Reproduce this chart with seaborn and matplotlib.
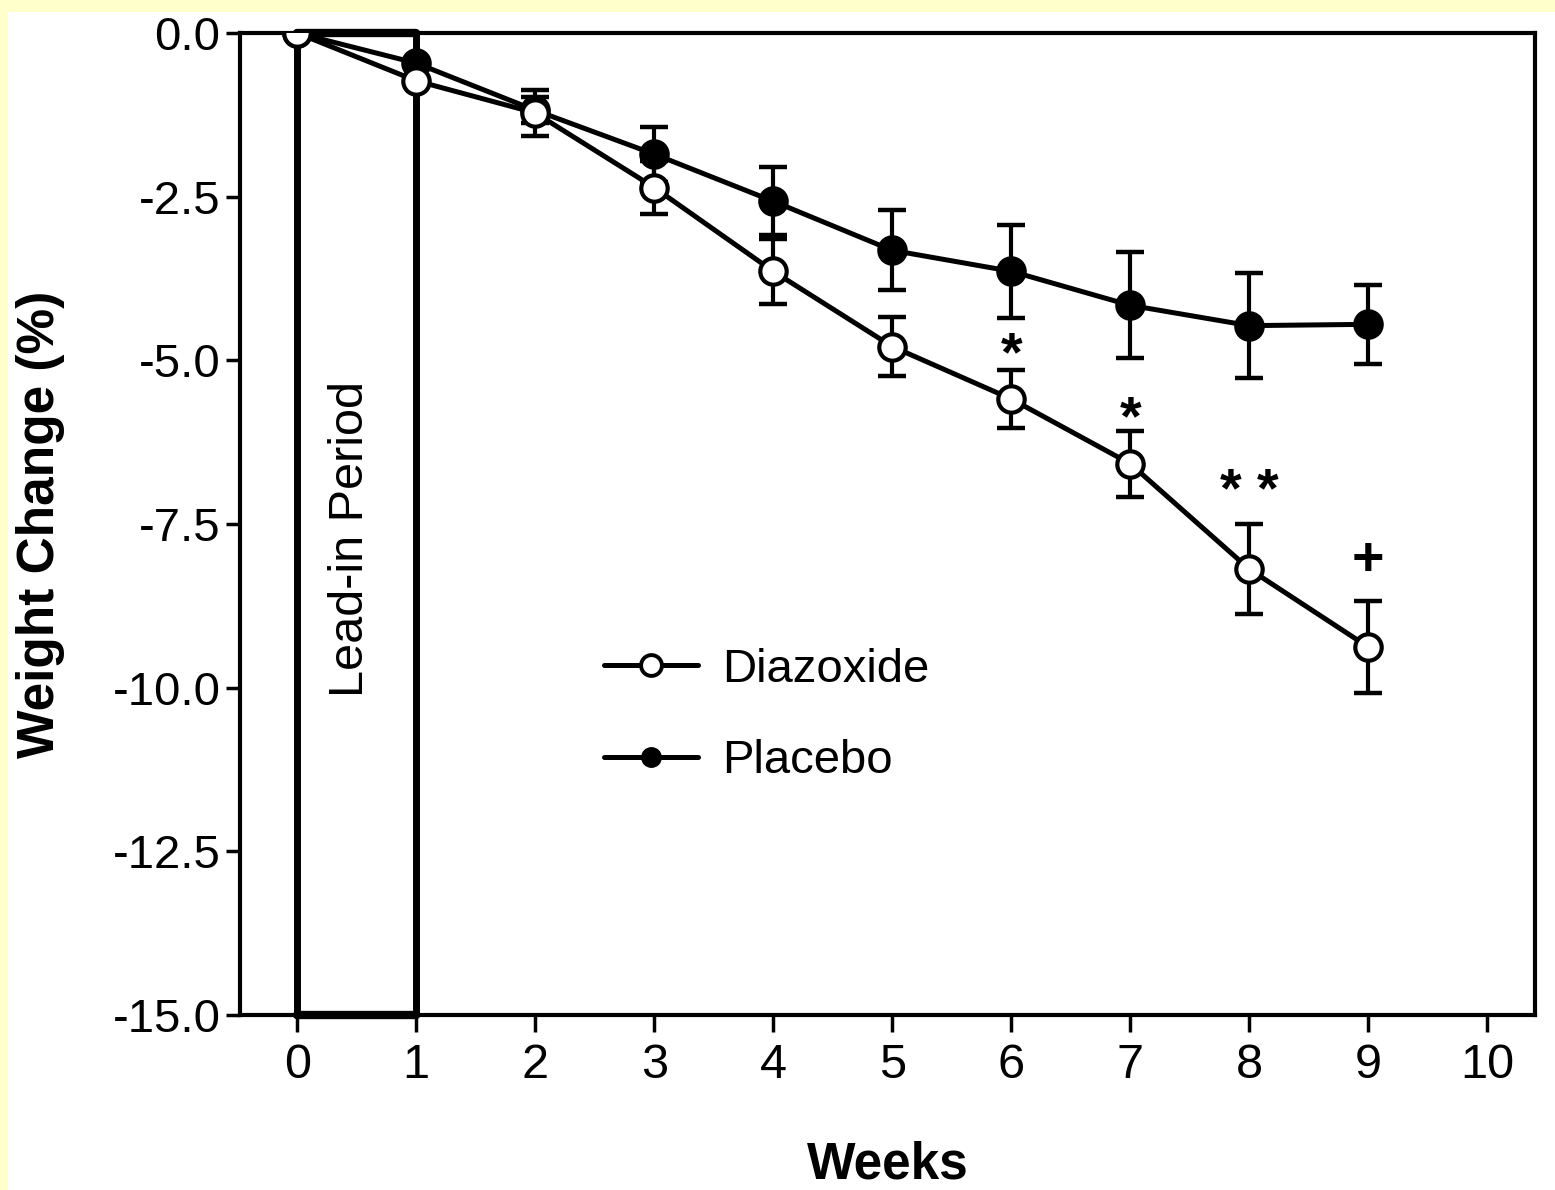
import seaborn as sns
import pandas as pd
import matplotlib.pyplot as plt
import matplotlib.patches as mpatches
from matplotlib.lines import Line2D

# Data (weight change in %)
weeks = [0, 1, 2, 3, 4, 5, 6, 7, 8, 9]
diazoxide = [0.0, -0.73, -1.22, -2.36, -3.64, -4.79, -5.59, -6.58, -8.19, -9.38]
diazoxide_err = [0.0, 0.0, 0.35, 0.41, 0.50, 0.45, 0.44, 0.50, 0.69, 0.70]
placebo = [0.0, -0.46, -1.18, -1.85, -2.57, -3.32, -3.64, -4.16, -4.47, -4.45]
placebo_err = [0.0, 0.0, 0.20, 0.42, 0.52, 0.61, 0.71, 0.81, 0.80, 0.60]

# significance marks above the diazoxide points
sig_weeks = [6, 7, 8, 9]
sig_labels = ['*', '*', '* *', '+']
sig_y = [-4.77, -5.74, -6.86, -8.07]

df = pd.DataFrame({
    'Weeks': weeks * 2,
    'Change': diazoxide + placebo,
    'Err': diazoxide_err + placebo_err,
    'Group': ['Diazoxide'] * len(weeks) + ['Placebo'] * len(weeks),
})

sns.set_style("ticks")
plt.rcParams['font.family'] = ['Liberation Sans', 'DejaVu Sans']
plt.rcParams.update({'text.color': 'black', 'axes.labelcolor': 'black',
                     'xtick.color': 'black', 'ytick.color': 'black'})

fig = plt.figure(figsize=(15.55, 11.9), dpi=100)
fig.patch.set_facecolor('#FFFFCC')
# white paper area inside the yellow frame (kept behind the axes)
paper = mpatches.Rectangle((8 / 1555, 0), 1, 1 - 12 / 1190,
                           transform=fig.transFigure,
                           facecolor='white', edgecolor='none', zorder=-10)
fig.add_artist(paper)
ax = fig.add_axes([240 / 1555, 1 - 1015 / 1190, 1295 / 1555, 982 / 1190])
ax.set_zorder(1)
ax.set_facecolor('white')

lw = 3.6
# placebo first so the open circles sit on top where they overlap
for name, face in [('Placebo', 'black'), ('Diazoxide', 'white')]:
    sub = df[df['Group'] == name]
    ax.errorbar(sub['Weeks'], sub['Change'], yerr=sub['Err'], fmt='none',
                ecolor='black', elinewidth=3, capsize=10, capthick=3.2, zorder=3)
    sns.lineplot(data=sub, x='Weeks', y='Change', ax=ax, color='black',
                 linewidth=lw, marker='o', markersize=19,
                 markerfacecolor=face, markeredgecolor='black', markeredgewidth=3,
                 zorder=4, legend=False)

# lead-in period box
ax.plot([0, 0], [0, -15], color='black', linewidth=5, zorder=2, clip_on=False)
ax.plot([1, 1], [0, -15], color='black', linewidth=5, zorder=2, clip_on=False)
ax.plot([0, 1], [-15, -15], color='black', linewidth=6, zorder=2, clip_on=False)
ax.plot([0, 1], [0, 0], color='black', linewidth=6, zorder=2, clip_on=False)
ax.text(0.45, -7.73, 'Lead-in Period', rotation=90, ha='center', va='center',
        fontsize=35)

for w, lab, yy in zip(sig_weeks, sig_labels, sig_y):
    if lab == '+':
        ax.text(w, yy, lab, ha='center', va='center', fontsize=40, fontweight='bold')
    else:
        # the asterisk glyph sits high in its box, so nudge it down
        ax.text(w, yy - 0.17, lab, ha='center', va='center', fontsize=40,
                fontweight='bold')

ax.set_xlim(-0.48, 10.4)
ax.set_ylim(-15, 0)
ax.set_xticks(range(0, 11))
ax.set_yticks([0, -2.5, -5, -7.5, -10, -12.5, -15])
ax.set_yticklabels(['0.0', '-2.5', '-5.0', '-7.5', '-10.0', '-12.5', '-15.0'])
ax.tick_params(axis='x', labelsize=35, length=12, width=2.5, direction='out', pad=8)
ax.tick_params(axis='y', labelsize=34, length=10, width=2.5, direction='out', pad=4)

for spine in ax.spines.values():
    spine.set_visible(True)
    spine.set_color('black')
    spine.set_linewidth(3)

ax.set_xlabel('Weeks', fontsize=37, fontweight='bold', labelpad=38)
ax.set_ylabel('Weight Change (%)', fontsize=37, fontweight='bold', labelpad=34)

handles = [
    Line2D([], [], color='black', linewidth=lw, marker='o', markersize=15,
           markerfacecolor='white', markeredgecolor='black', markeredgewidth=2.8),
    Line2D([], [], color='black', linewidth=lw, marker='o', markersize=14,
           markerfacecolor='black', markeredgecolor='black'),
]
ax.legend(handles, ['Diazoxide', 'Placebo'], loc='center left',
          bbox_to_anchor=(0.248, 0.305), frameon=False, fontsize=34,
          handlelength=2.0, labelspacing=1.0, handletextpad=0.5)

plt.savefig('out.png', dpi=100, facecolor=fig.get_facecolor())
